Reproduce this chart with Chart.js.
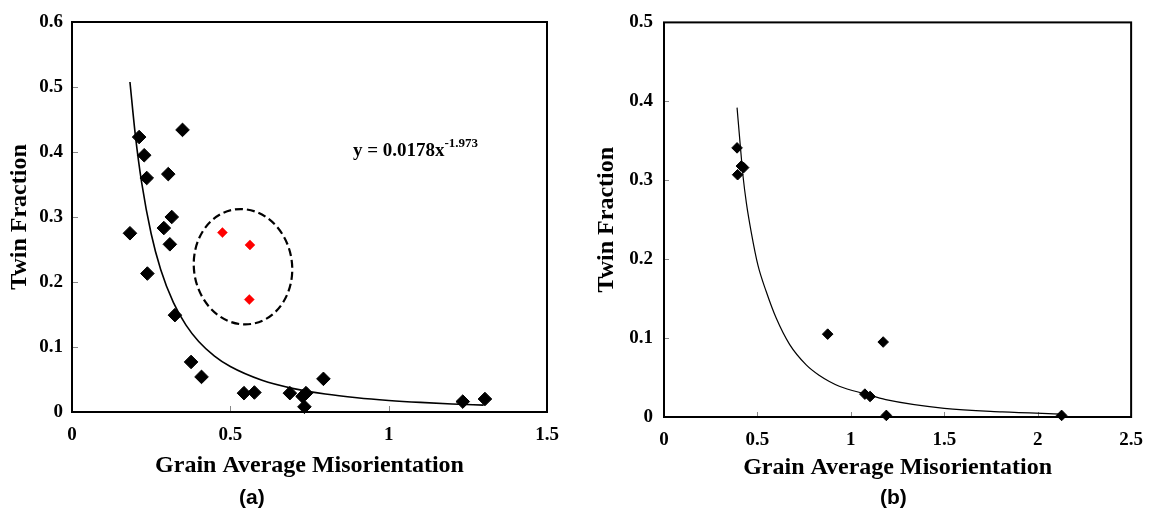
<!DOCTYPE html>
<html><head><meta charset="utf-8">
<script src="https://cdn.jsdelivr.net/npm/chart.js@4.4.1/dist/chart.umd.min.js"></script>
<style>
html,body{margin:0;padding:0;background:#fff;width:1155px;height:516px;overflow:hidden;}
#ca{position:absolute;left:0;top:0;}
#cb{position:absolute;left:577px;top:0;}
.lab{position:absolute;font:bold 21px "Liberation Sans",Arial,sans-serif;color:#000;top:485px;line-height:24px;}
</style></head><body>
<canvas id="ca" width="577" height="516"></canvas>
<canvas id="cb" width="578" height="516"></canvas>
<div class="lab" style="left:239px">(a)</div>
<div class="lab" style="left:880px">(b)</div>
<script>
// ---------- Data: panel (a) ----------
const grainA = [0.212,0.228,0.236,0.304,0.349,0.183,0.290,0.315,0.309,0.238,0.325,0.376,0.409,0.543,0.576,0.688,0.728,0.739,0.734,0.794,1.234,1.304];
const twinA  = [0.423,0.395,0.360,0.366,0.434,0.275,0.283,0.300,0.258,0.213,0.149,0.077,0.054,0.029,0.030,0.029,0.024,0.029,0.008,0.051,0.016,0.020];
const grainRed = [0.475,0.562,0.560];
const twinRed  = [0.276,0.257,0.173];
// power-law trend line y = 0.0178x^-1.973
const fitXA = [0.183,0.20,0.22,0.25,0.28,0.32,0.36,0.40,0.45,0.50,0.60,0.70,0.80,0.90,1.00,1.10,1.20,1.30];
const fitYA = [0.5077,0.4261,0.3530,0.2743,0.2194,0.1686,0.1336,0.1085,0.0860,0.0699,0.0488,0.0360,0.0276,0.0219,0.0178,0.01475,0.01242,0.01061];
const xTicksA = [0,0.5,1,1.5];
const yTicksA = [0,0.1,0.2,0.3,0.4,0.5,0.6];
const equationA = 'y = 0.0178x';
const exponentA = '-1.973';

// ---------- Data: panel (b) ----------
const grainB = [0.391,0.394,0.414,0.426,0.876,1.173,1.075,1.103,1.190,2.128];
const twinB  = [0.341,0.307,0.318,0.316,0.105,0.095,0.029,0.026,0.002,0.002];
const fitXB = [0.391,0.409,0.423,0.441,0.467,0.503,0.547,0.601,0.672,0.761,0.832,0.885,0.938,1.080,1.187,1.50,1.81,2.13];
const fitYB = [0.392,0.342,0.305,0.271,0.234,0.192,0.159,0.125,0.092,0.066,0.0525,0.045,0.039,0.0290,0.022,0.0110,0.0065,0.0037];
const xTicksB = [0,0.5,1,1.5,2,2.5];
const yTicksB = [0,0.1,0.2,0.3,0.4,0.5];

const xTitle = 'Grain Average Misorientation';
const yTitle = 'Twin Fraction';

const SERIF = '"Liberation Serif","Times New Roman",serif';
const pts = (xs, ys) => xs.map((x, i) => ({x, y: ys[i]}));

const framePlugin = {
  id: 'frame',
  beforeDatasetsDraw(chart, args, o) {
    const {ctx, chartArea: a, scales} = chart;
    ctx.save();
    ctx.strokeStyle = '#888';
    ctx.lineWidth = 1;
    scales.x.ticks.forEach(t => {
      const px = Math.round(scales.x.getPixelForValue(t.value)) + 0.5;
      ctx.beginPath(); ctx.moveTo(px, a.bottom); ctx.lineTo(px, a.bottom - o.len); ctx.stroke();
    });
    scales.y.ticks.forEach(t => {
      const py = Math.round(scales.y.getPixelForValue(t.value)) + 0.5;
      ctx.beginPath(); ctx.moveTo(a.left, py); ctx.lineTo(a.left + o.len, py); ctx.stroke();
    });
    ctx.strokeStyle = '#000';
    ctx.lineWidth = o.width;
    ctx.strokeRect(a.left, a.top, a.right - a.left, a.bottom - a.top);
    ctx.restore();
  }
};

const annotA = {
  id: 'annotA',
  afterDatasetsDraw(chart) {
    const {ctx, scales: {x, y}} = chart;
    ctx.save();
    // dashed ellipse around the red points
    const cx = x.getPixelForValue(0.540), cy = y.getPixelForValue(0.2235);
    const rx = x.getPixelForValue(0.155) - x.getPixelForValue(0);
    const ry = y.getPixelForValue(0) - y.getPixelForValue(0.089);
    ctx.strokeStyle = '#000';
    ctx.lineWidth = 2.2;
    ctx.setLineDash([8, 4]);
    ctx.beginPath();
    ctx.ellipse(cx, cy, rx, ry, -0.14, 0, Math.PI * 2);
    ctx.stroke();
    ctx.setLineDash([]);
    // equation
    const ex = x.getPixelForValue(0.887), ey = y.getPixelForValue(0.403);
    ctx.fillStyle = '#000';
    ctx.textBaseline = 'alphabetic';
    ctx.textAlign = 'left';
    ctx.font = 'bold 19px ' + SERIF;
    ctx.fillText(equationA, ex, ey + 6);
    const w = ctx.measureText(equationA).width;
    ctx.font = 'bold 13px ' + SERIF;
    ctx.fillText(exponentA, ex + w, ey - 3);
    ctx.restore();
  }
};

function axes(xmin, xmax, xt, ymin, ymax, yt, o) {
  const tickFont = {family: SERIF, size: 19, weight: 'bold'};
  const titleFont = {family: SERIF, size: 24, weight: 'bold'};
  return {
    x: {
      type: 'linear', min: xmin, max: xmax,
      afterBuildTicks: s => { s.ticks = xt.map(v => ({value: v})); },
      ticks: {callback: v => String(v), font: tickFont, color: '#000', padding: o.xpad, maxRotation: 0, autoSkip: false},
      grid: {display: false, drawTicks: false, tickLength: 0},
      border: {display: false},
      title: {display: true, text: xTitle, font: titleFont, color: '#000', padding: {top: 0, bottom: o.xtb}},
      afterFit: s => { s.height = o.xh; }
    },
    y: {
      type: 'linear', min: ymin, max: ymax,
      afterBuildTicks: s => { s.ticks = yt.map(v => ({value: v})); },
      ticks: {callback: v => String(v), font: tickFont, color: '#000', padding: o.ypad, autoSkip: false},
      grid: {display: false, drawTicks: false, tickLength: 0},
      border: {display: false},
      title: {display: true, text: yTitle, font: titleFont, color: '#000', padding: {top: o.ytt, bottom: 0}},
      afterFit: s => { s.width = o.yw; }
    }
  };
}

new Chart(document.getElementById('ca'), {
  type: 'scatter',
  data: {
    datasets: [
      {data: pts(fitXA, fitYA), showLine: true, borderColor: '#000', borderWidth: 1.6, pointRadius: 0, cubicInterpolationMode: 'monotone', order: 3},
      {data: pts(grainA, twinA), pointStyle: 'rectRot', pointRadius: 6.8, backgroundColor: '#000', borderColor: '#000', borderWidth: 1, order: 1},
      {data: pts(grainRed, twinRed), pointStyle: 'rectRot', pointRadius: 5, backgroundColor: '#ff0000', borderColor: '#ff0000', borderWidth: 0.5, order: 2}
    ]
  },
  options: {
    responsive: false, animation: false, clip: false,
    layout: {padding: {left: 0, top: 22, right: 30, bottom: 0}},
    plugins: {legend: {display: false}, tooltip: {enabled: false}, frame: {len: 6, width: 2}},
    scales: axes(0, 1.5, xTicksA, 0, 0.6, yTicksA, {xpad: 12, xtb: 36, xh: 104, ypad: 9, ytt: 5, yw: 72})
  },
  plugins: [framePlugin, annotA]
});

new Chart(document.getElementById('cb'), {
  type: 'scatter',
  data: {
    datasets: [
      {data: pts(fitXB, fitYB), showLine: true, borderColor: '#000', borderWidth: 1.2, pointRadius: 0, cubicInterpolationMode: 'monotone', order: 2},
      {data: pts(grainB, twinB), pointStyle: 'rectRot', pointRadius: 5.3, backgroundColor: '#000', borderColor: '#000', borderWidth: 1, order: 1}
    ]
  },
  options: {
    responsive: false, animation: false, clip: false,
    layout: {padding: {left: 0, top: 17, right: 22, bottom: 0}},
    plugins: {legend: {display: false}, tooltip: {enabled: false}, frame: {len: 5, width: 2}},
    scales: axes(0, 2.5, xTicksB, 0, 0.5, yTicksB, {xpad: 12, xtb: 34, xh: 99, ypad: 11, ytt: 15, yw: 87})
  },
  plugins: [framePlugin]
});
</script>
</body></html>
